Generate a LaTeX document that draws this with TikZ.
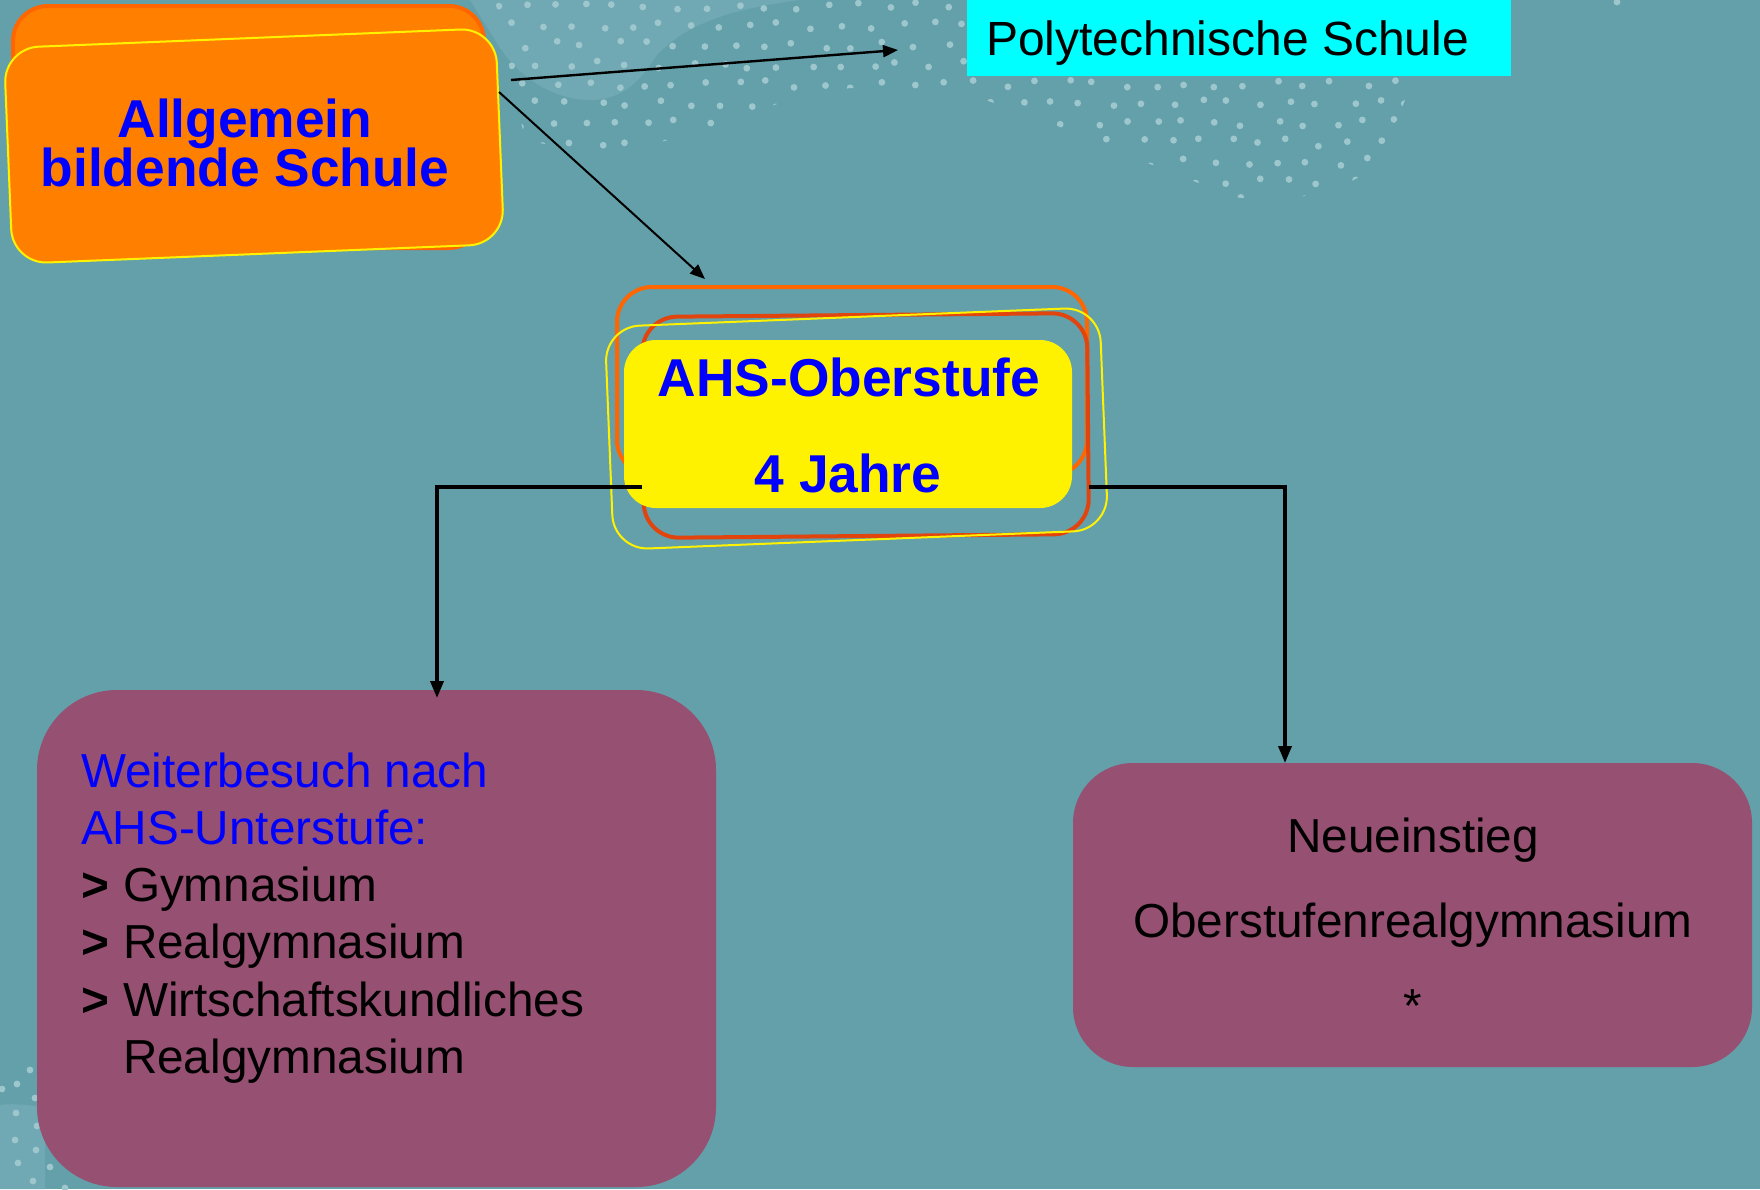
\documentclass[tikz,border=0pt]{standalone}
\usepackage{fontspec}
\setmainfont{Liberation Sans}
\usetikzlibrary{arrows.meta}
\definecolor{bgteal}{RGB}{99,160,170}
\definecolor{blobcol}{RGB}{112,169,179}
\definecolor{dotcol}{RGB}{158,199,205}
\definecolor{boxorange}{RGB}{255,128,0}
\definecolor{edgeorange}{RGB}{255,102,0}
\definecolor{edgered}{RGB}{226,68,14}
\definecolor{purplebox}{RGB}{150,80,114}
\definecolor{polycyan}{RGB}{0,255,255}
\definecolor{txtblue}{RGB}{0,0,255}
\begin{document}
\begin{tikzpicture}[x=1pt,y=-1pt,
  txt/.style={inner sep=0pt, outer sep=0pt},
  titletext/.style={txt, text=txtblue, font=\fontsize{53.3}{49}\bfseries\selectfont},
  bodytext/.style={txt, text=black, font=\fontsize{47.7}{57}\selectfont},
  bodyblue/.style={txt, text=txtblue, font=\fontsize{47.7}{57}\selectfont},
  linkthin/.style={draw=black, line width=2.4pt, -{Triangle[length=15pt,width=12pt]}},
  linkdiag/.style={draw=black, line width=2pt, -{Triangle[length=15pt,width=12pt]}},
  linkthick/.style={draw=black, line width=3.6pt, -{Triangle[length=17pt,width=13pt]}},
  pbox/.style={fill=purplebox, draw=none, inner sep=0pt},
  framebox/.style={inner sep=0pt, fill=none}
]
\fill[bgteal] (0,0) rectangle (1760,1189);
\useasboundingbox (0,0) rectangle (1760,1189);

% light background swoosh
\fill[blobcol] (470,0) -- (495,40) .. controls (520,82) and (558,100) .. (590,100)
  .. controls (625,100) and (642,78) .. (657,55) .. controls (690,20) and (740,8) .. (800,0) -- cycle;
\fill[blobcol] (0,1105) .. controls (15,1103) and (30,1105) .. (45,1108) -- (45,1189) -- (0,1189) -- cycle;

% dotted band
\begin{scope}
\clip (495,0) -- (1010,0) -- (1010,70) -- (1408,70) -- (1405,100) -- (1395,125) -- (1385,152)
  -- (1365,174) -- (1335,190) -- (1305,196) -- (1240,198) -- (1185,178) -- (1135,158)
  -- (1075,133) -- (1030,115) -- (985,100) -- (940,91) -- (850,88) -- (780,103) -- (750,113)
  -- (700,131) -- (650,145) -- (590,153) -- (525,140) -- cycle;
\pgfmathsetseed{11}
\foreach \j in {0,...,10}{
  \foreach \i in {0,...,30}{
    \pgfmathsetmacro{\px}{495+\i*30+mod(\j,2)*15+6*rand}
    \pgfmathsetmacro{\py}{6+\j*19.5+4*rand}
    \fill[dotcol] (\px,\py) circle[radius=3.4];
  }
}
\end{scope}
\foreach \px/\py in {30/1070,17/1084,2/1089,35/1098,16/1113,37/1126,15/1140,36/1150,18/1163,50/1167,33/1181,65/1188,1617/2}
  \fill[dotcol] (\px,\py) circle[radius=3.4];

% Allgemein bildende Schule
\node[framebox, draw=edgeorange, line width=4pt, fill=boxorange, rounded corners=35pt,
      minimum width=471pt, minimum height=242pt] (allgback) at (248.5,127) {};
\node[framebox, draw=yellow, line width=2pt, fill=boxorange, rounded corners=35pt,
      minimum width=492pt, minimum height=216pt, rotate=2.33] (allg) at (254,146) {};
\node[titletext, anchor=base] (allg1) at (245,137) {Allgemein};
\node[titletext, anchor=base] (allg2) at (245,186) {bildende Schule};

% Polytechnische Schule
\node[framebox, fill=polycyan, anchor=north west, minimum width=544pt, minimum height=76pt] (poly) at (967,0) {};
\node[txt, anchor=base west, font=\fontsize{48}{56}\selectfont] (polyt) at (986,55) {Polytechnische Schule};

% AHS-Oberstufe frames
\node[framebox, draw=edgeorange, line width=4pt, rounded corners=35pt,
      minimum width=470pt, minimum height=188pt] (ahsO) at (852,381) {};
\node[framebox, draw=edgered, line width=4pt, rounded corners=35pt,
      minimum width=445pt, minimum height=221pt, rotate=0.5] (ahsR) at (865.5,425.5) {};
\node[framebox, draw=yellow, line width=2pt, rounded corners=35pt,
      minimum width=495pt, minimum height=223pt, rotate=2.3] (ahsY) at (856.5,428.5) {};
\node[framebox, fill=yellow, rounded corners=32pt,
      minimum width=448pt, minimum height=168pt] (ahs) at (848,424) {};
\node[titletext, anchor=base] (ahs1) at (849,396) {AHS-Oberstufe};
\node[titletext, anchor=base] (ahs2) at (848,492) {4 Jahre};

% purple boxes
\node[pbox, rounded corners=80pt, minimum width=679pt, minimum height=497pt] (weiter) at (376.5,938.5) {};
\node[pbox, rounded corners=60pt, minimum width=679pt, minimum height=304pt] (neu) at (1412.5,915) {};

\node[bodyblue, anchor=base west] (w1) at (81,787) {Weiterbesuch nach};
\node[bodyblue, anchor=base west] (w2) at (81,844) {AHS-Unterstufe:};
\node[bodytext, anchor=base west] (w3) at (81,901) {\makebox[42pt][l]{\bfseries >}Gymnasium};
\node[bodytext, anchor=base west] (w4) at (81,958) {\makebox[42pt][l]{\bfseries >}Realgymnasium};
\node[bodytext, anchor=base west] (w5) at (81,1016) {\makebox[42pt][l]{\bfseries >}Wirtschaftskundliches};
\node[bodytext, anchor=base west] (w6) at (123,1073) {Realgymnasium};

\node[bodytext, anchor=base] (n1) at (1413,852) {Neueinstieg};
\node[bodytext, anchor=base] (n2) at (1413,937) {Oberstufenrealgymnasium};
\node[bodytext, anchor=base] (n3) at (1413,1022) {*};

% connectors
\coordinate (allgA) at (511,80);
\coordinate (polyIn) at (898,50);
\coordinate (allgB) at (499,92);
\coordinate (ahsIn) at (705,279);
\coordinate (ahsLout) at (642,487);
\coordinate (ahsRout) at (1089,487);
\coordinate (wIn) at (437,698);
\coordinate (nIn) at (1285,763);

\draw[linkthin] (allgA) -- (polyIn);
\draw[linkdiag] (allgB) -- (ahsIn);
\draw[linkthick] (ahsLout) -| (wIn);
\draw[linkthick] (ahsRout) -| (nIn);
\end{tikzpicture}
\end{document}
